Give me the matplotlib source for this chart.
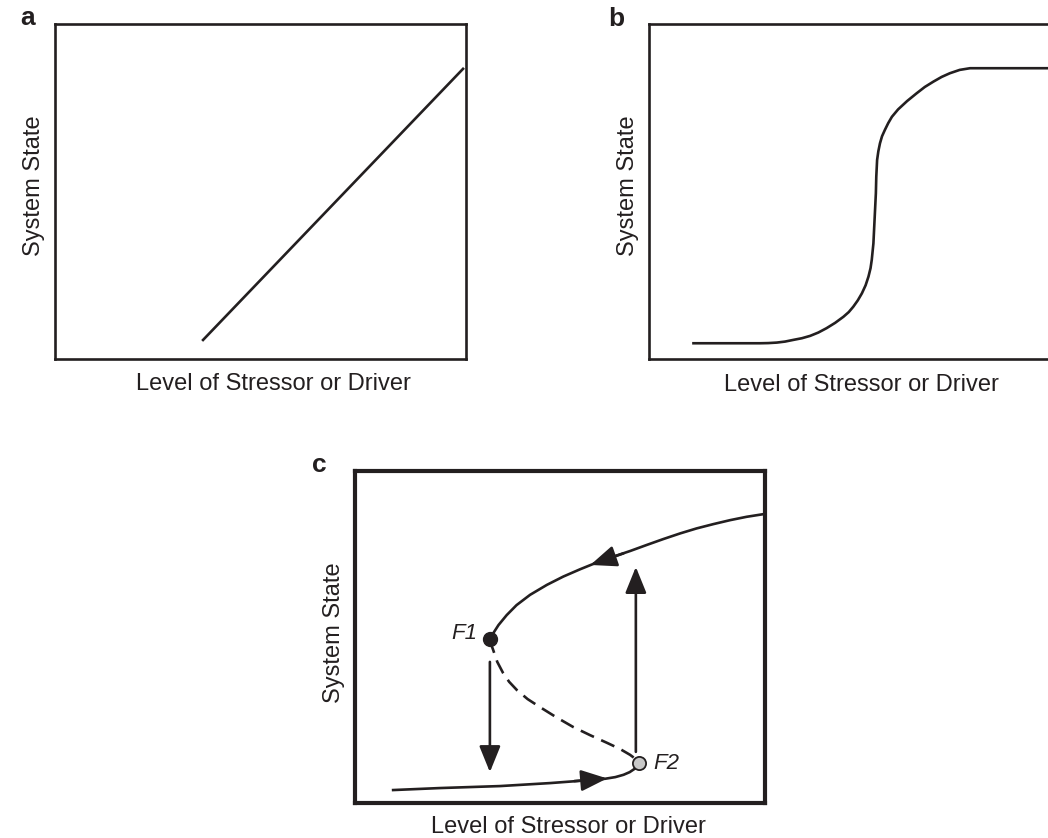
import matplotlib
matplotlib.use("Agg")
import matplotlib.pyplot as plt

plt.rcParams['font.family'] = ['Liberation Sans', 'DejaVu Sans']

W, H = 1048, 838
INK = '#231f20'

# ---------------- data (axes units 0..100) ----------------
# panel a: linear response
a_x = [35.8, 99.5]
a_y = [5.4, 86.9]

# panel b: sigmoidal (threshold) response
b_x = [10.5, 27.0, 29.0, 31.1, 33.1, 35.1, 37.2, 39.2, 41.2, 43.2, 45.3, 47.3,
       48.6, 49.7, 50.8, 51.8, 52.7, 53.4, 53.9, 54.2, 54.6, 54.8, 55.0, 55.2,
       55.3, 55.5, 55.8, 56.2, 56.7, 57.4, 58.2, 59.1, 60.6, 62.8, 65.1, 67.1,
       69.2, 71.2, 73.2, 75.6, 78.1, 100.0]
b_y = [4.7, 4.7, 4.75, 4.9, 5.2, 5.7, 6.2, 6.9, 7.9, 9.2, 10.8, 12.6,
       14.0, 15.6, 17.5, 19.6, 22.0, 24.6, 27.1, 29.6, 34.5, 39.5, 44.5, 49.5,
       54.4, 59.4, 62.0, 64.4, 66.5, 68.4, 70.4, 72.3, 74.5, 77.0, 79.3, 81.2,
       82.8, 84.2, 85.3, 86.3, 86.8, 86.8]

# panel c: fold bifurcation (hysteresis)
c_upper_x = [100.0, 99.6, 95.5, 91.5, 87.4, 83.3, 79.3, 75.2, 71.1, 67.1, 63.0,
             58.9, 54.9, 50.8, 46.8, 42.7, 39.4, 37.0, 35.0, 33.7, 33.1, 32.9]
c_upper_y = [87.0, 87.0, 86.2, 85.2, 84.0, 82.7, 81.2, 79.5, 77.7, 75.9, 74.2,
             72.4, 70.4, 68.2, 65.7, 62.7, 59.6, 56.6, 53.6, 51.1, 49.9, 49.4]
c_mid_x = [32.9, 33.2, 33.7, 34.7, 36.1, 37.6, 39.5, 42.1, 45.1, 49.0, 53.2,
           57.4, 61.5, 64.6, 67.1, 68.5, 69.3]
c_mid_y = [49.4, 47.8, 46.1, 42.5, 39.2, 36.5, 34.0, 31.3, 28.9, 25.9, 22.9,
           20.4, 18.1, 16.3, 14.5, 13.2, 12.0]
c_lower_x = [9.3, 20.7, 35.4, 47.6, 57.3, 61.0, 63.5, 65.5, 67.0, 68.2, 68.9, 69.3]
c_lower_y = [3.9, 4.5, 5.1, 6.0, 6.9, 7.3, 7.8, 8.5, 9.3, 10.3, 11.2, 12.0]
fold_labels = ['F1', 'F2']
fold_x = [32.9, 69.3]
fold_y = [49.4, 12.0]
jump_down = [(32.9, 42.5), (32.9, 9.3)]   # (start, end)
jump_up = [(68.5, 15.4), (68.5, 71.1)]
flow_upper = [(65.5, 75.2), (57.4, 71.7)]  # (tail, tip)
flow_lower = [(53.5, 6.6), (61.5, 7.4)]

xlabel = 'Level of Stressor or Driver'
ylabel = 'System State'

fig = plt.figure(figsize=(W / 100, H / 100), dpi=100)


def px_rect(left, top, right, bottom):
    return [left / W, 1 - bottom / H, (right - left) / W, (bottom - top) / H]


def setup(ax, lw):
    ax.set_xlim(0, 100)
    ax.set_ylim(0, 100)
    ax.set_xticks([])
    ax.set_yticks([])
    for s in ax.spines.values():
        s.set_linewidth(lw)
        s.set_color(INK)


def ftext(x, y, s, **kw):
    fig.text(x / W, 1 - y / H, s, color=INK, **kw)


ax_a = fig.add_axes(px_rect(55, 24, 466, 359))
ax_b = fig.add_axes(px_rect(649, 24, 1060, 359))
ax_c = fig.add_axes(px_rect(355, 471, 765, 803))
for ax in (ax_a, ax_b):
    setup(ax, 1.9)
setup(ax_c, 3.0)

ax_a.plot(a_x, a_y, color=INK, lw=1.9, solid_capstyle='butt')
ax_b.plot(b_x, b_y, color=INK, lw=1.9, solid_capstyle='butt',
          solid_joinstyle='round')

ax_c.plot(c_upper_x, c_upper_y, color=INK, lw=1.9, solid_joinstyle='round')
ax_c.plot(c_mid_x, c_mid_y, color=INK, lw=1.9, linestyle=(0, (5.5, 3)))
ax_c.plot(c_lower_x, c_lower_y, color=INK, lw=1.9, solid_joinstyle='round')

ap = dict(arrowstyle='-|>,head_length=1.6,head_width=0.65', lw=1.9,
          color=INK, shrinkA=0, shrinkB=0)
ax_c.annotate('', xy=jump_down[1], xytext=jump_down[0], arrowprops=ap)
ax_c.annotate('', xy=jump_up[1], xytext=jump_up[0], arrowprops=ap)
ax_c.annotate('', xy=flow_upper[1], xytext=flow_upper[0], arrowprops=ap)
ax_c.annotate('', xy=flow_lower[1], xytext=flow_lower[0], arrowprops=ap)

ax_c.plot(fold_x[0], fold_y[0], 'o', ms=10, mfc=INK, mec=INK, zorder=5)
ax_c.plot(fold_x[1], fold_y[1], 'o', ms=9.5, mfc='#c8c8c8', mec=INK,
          mew=1.3, zorder=5)
ax_c.text(fold_x[0] - 3.0, fold_y[0] + 1.8, fold_labels[0], ha='right',
          va='center', fontsize=16, style='italic', color=INK)
ax_c.text(fold_x[1] + 3.4, fold_y[1], fold_labels[1], ha='left',
          va='center', fontsize=16, style='italic', color=INK)

# panel letters
ftext(20, 25, 'a', fontsize=19, fontweight='bold', ha='left', va='baseline')
ftext(608, 26, 'b', fontsize=19, fontweight='bold', ha='left', va='baseline')
ftext(312, 472, 'c', fontsize=19, fontweight='bold', ha='left', va='baseline')

# axis labels
ftext(273, 390, xlabel, fontsize=17, ha='center', va='baseline')
ftext(861, 391, xlabel, fontsize=17, ha='center', va='baseline')
ftext(568, 833, xlabel, fontsize=17, ha='center', va='baseline')
ftext(34, 186, ylabel, fontsize=17, ha='center', va='center', rotation=90)
ftext(628, 186, ylabel, fontsize=17, ha='center', va='center', rotation=90)
ftext(334, 633, ylabel, fontsize=17, ha='center', va='center', rotation=90)

fig.savefig('out.png', dpi=100)
